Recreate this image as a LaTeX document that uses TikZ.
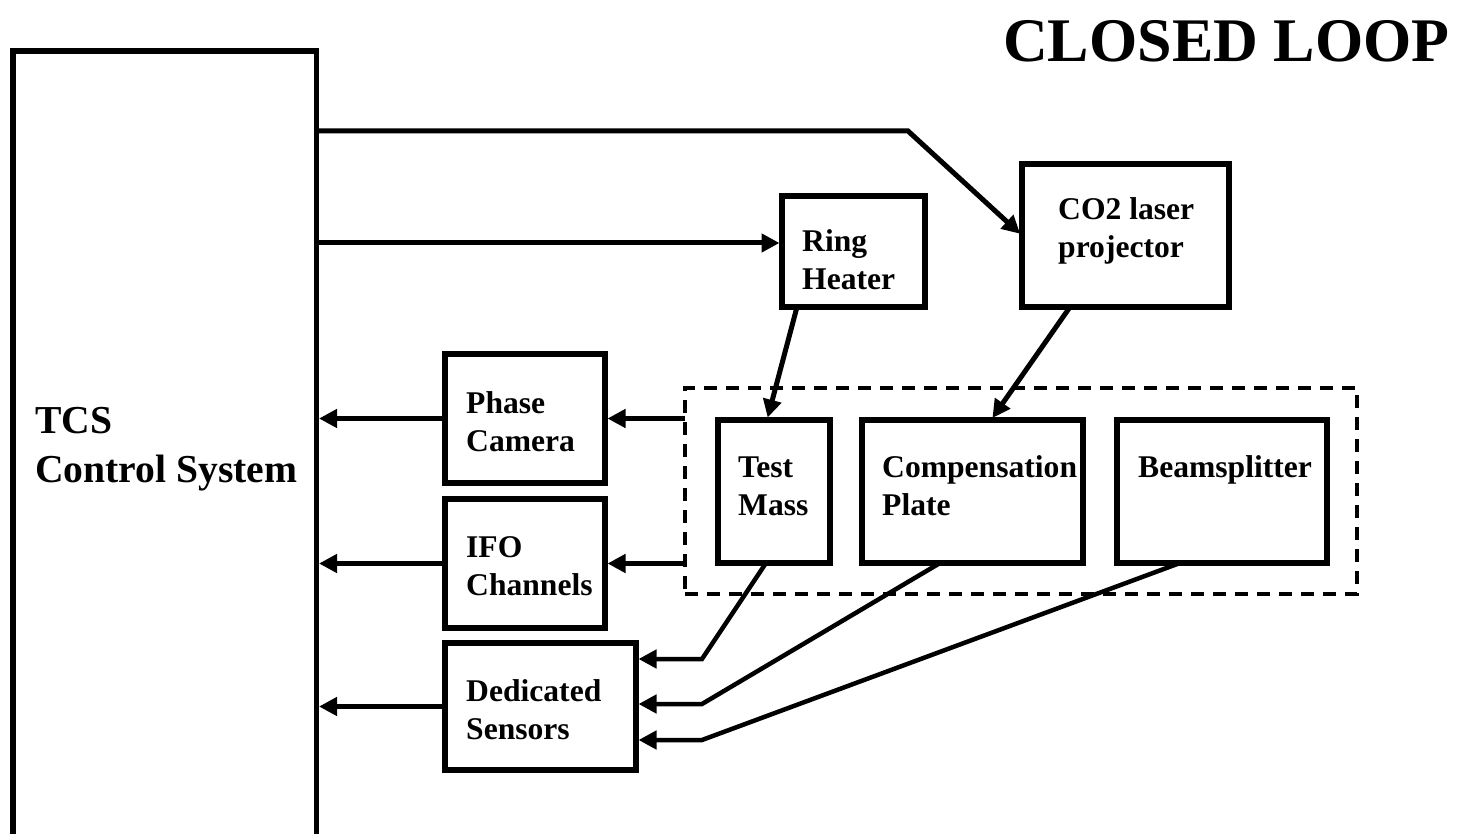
\documentclass[tikz,border=0pt]{standalone}
\usepackage{fontspec}
\setmainfont{Liberation Serif}
\usetikzlibrary{arrows.meta,calc}
\begin{document}
\begin{tikzpicture}[x=1pt,y=-1pt,
  box/.style={draw,line width=5.5pt,rectangle,inner sep=0pt,outer sep=0pt,anchor=north west},
  grp/.style={draw,line width=3.5pt,dash pattern=on 13pt off 9pt,rectangle,inner sep=0pt,outer sep=0pt,anchor=north west},
  lbl/.style={font=\fontsize{31.6}{38}\selectfont\bfseries,align=left,anchor=base west,inner sep=0pt},
  arr/.style={line width=5pt,shorten >=2.5pt,-{Triangle[length=18pt,width=18pt]}}]
\useasboundingbox (0,0) rectangle (1470,834);
% boxes
\node[box,minimum width=303.5pt,minimum height=830pt] (tcs) at (13,51) {};
\node[box,minimum width=143pt,minimum height=111pt] (ring) at (782,196) {};
\node[box,minimum width=207pt,minimum height=143pt] (co2) at (1022,164) {};
\node[box,minimum width=160pt,minimum height=129pt] (phase) at (445,354) {};
\node[box,minimum width=160pt,minimum height=129pt] (ifo) at (445,499) {};
\node[box,minimum width=191pt,minimum height=127pt] (ded) at (445,643) {};
\node[grp,minimum width=672pt,minimum height=206pt] (group) at (685,388) {};
\node[box,minimum width=112pt,minimum height=143pt] (test) at (718,420) {};
\node[box,minimum width=221pt,minimum height=143pt] (comp) at (862,420) {};
\node[box,minimum width=210pt,minimum height=143pt] (beam) at (1117,420) {};
% labels (anchor = baseline of last line)
\node[font=\fontsize{62}{70}\selectfont\bfseries,anchor=base west,inner sep=0pt] (title) at (1003,62) {CLOSED LOOP};
\node[font=\fontsize{39.6}{49}\selectfont\bfseries,align=left,anchor=base west,inner sep=0pt] (tcsl) at (35,482) {TCS\\Control System};
\node[lbl] (ringl) at (802,290) {Ring\\Heater};
\node[lbl] (co2l) at (1058,258) {CO2 laser\\projector};
\node[lbl] (phasel) at (466,451) {Phase\\Camera};
\node[lbl] (ifol) at (466,595) {IFO\\Channels};
\node[lbl] (dedl) at (466,739) {Dedicated\\Sensors};
\node[lbl] (testl) at (738,515) {Test\\Mass};
\node[lbl] (compl) at (882,515) {Compensation\\Plate};
\node[lbl] (beaml) at (1138,477) {Beamsplitter};
% connectors
\coordinate (c1) at (908,131);
\coordinate (c2) at (0,243);
\draw[arr] (tcs.east |- c1) -- (c1) -- (co2.west);
\draw[arr] (tcs.east |- c2) -- (ring.west |- c2);
\draw[arr] ([xshift=15pt]ring.south west) -- ([xshift=49pt]test.north west);
\draw[arr] ([xshift=48pt]co2.south west) -- ([xshift=129pt]comp.north west);
\draw[arr] (group.west |- phase.east) -- (phase.east);
\draw[arr] (group.west |- ifo.east) -- (ifo.east);
\draw[arr] (phase.west) -- (tcs.east |- phase.west);
\draw[arr] (ifo.west) -- (tcs.east |- ifo.west);
\draw[arr] (ded.west) -- (tcs.east |- ded.west);
\coordinate (k1) at (702,659);
\coordinate (k2) at (702,704);
\coordinate (k3) at (702,740);
\draw[arr,line width=4.5pt] ([xshift=48pt]test.south west) -- (k1) -- (ded.east |- k1);
\draw[arr,line width=4.5pt] ([xshift=78pt]comp.south west) -- (k2) -- (ded.east |- k2);
\draw[arr,line width=4.5pt] ([xshift=63pt]beam.south west) -- (k3) -- (ded.east |- k3);
\end{tikzpicture}
\end{document}
